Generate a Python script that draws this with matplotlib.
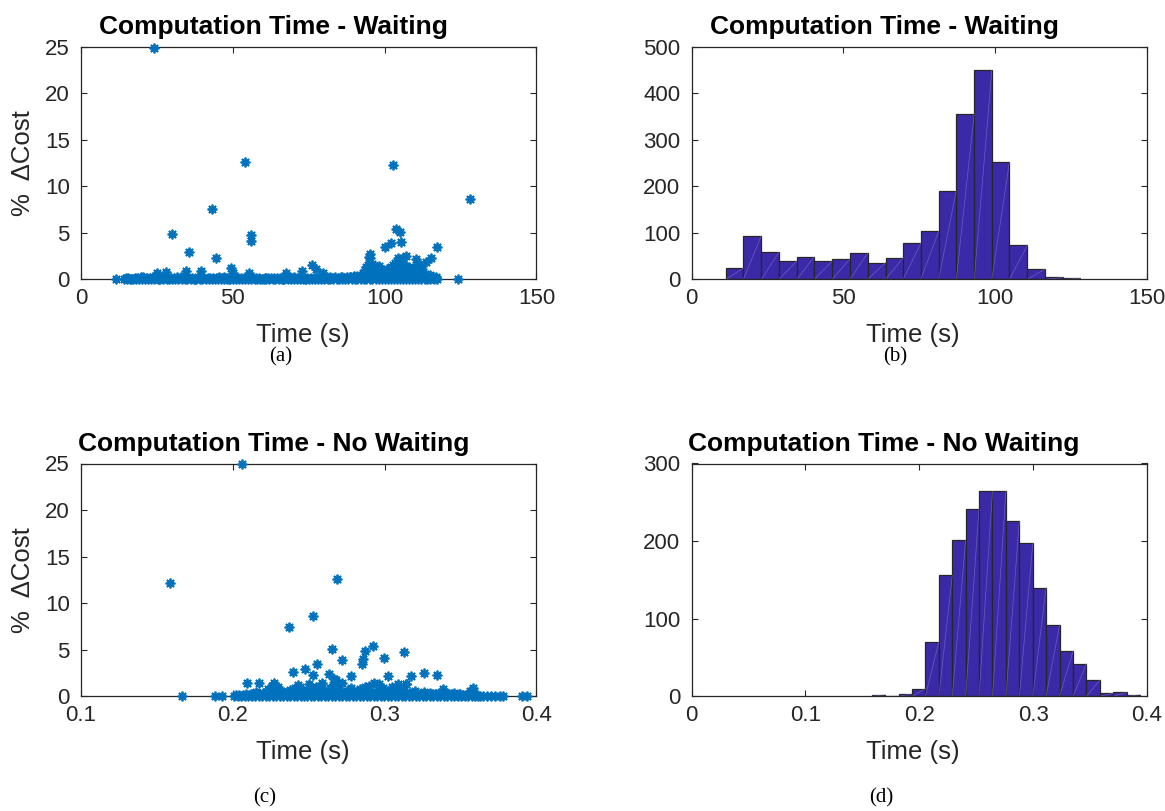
import numpy as np
import matplotlib
matplotlib.use("Agg")
import matplotlib.pyplot as plt

# ---------------- data ----------------
# (a) scatter, waiting: isolated points
wait_out_x = [23.9, 54.0, 102.7, 128.1, 43.0, 29.9, 55.9, 55.9, 35.5, 44.4, 49.5,
              103.8, 105.2, 105.3, 102.1, 100.2, 117.2, 95.3, 94.7, 104.4, 107.1,
              106.1, 110.5, 115.4, 113.6, 110.9, 108.2, 112.4, 76.0, 77.3, 79.7,
              72.9, 67.6, 55.2, 39.5, 34.6, 28.1, 24.9, 50.2, 98.3, 95.2]
wait_out_y = [24.9, 12.6, 12.25, 8.63, 7.52, 4.87, 4.8, 4.08, 2.94, 2.33, 1.25,
              5.44, 5.09, 4.05, 3.9, 3.5, 3.5, 2.69, 2.36, 2.33, 2.5,
              2.26, 2.2, 2.26, 1.83, 1.6, 1.36, 1.07, 1.5, 1.15, 0.72,
              0.9, 0.64, 0.72, 0.9, 0.9, 0.8, 0.64, 0.64, 1.46, 2.3]
# (a) small non-zero values (dense cluster near 95-108 s and low band)
wait_low_x = [92.0, 92.8, 93.5, 94.0, 94.6, 95.3, 95.8, 96.4, 97.0, 97.6, 98.9,
              99.5, 100.2, 100.8, 101.5, 102.2, 102.9, 103.5, 104.1, 104.8, 105.4,
              106.0, 106.7, 107.4, 108.4, 109.0, 109.8, 110.6, 111.5, 113.2, 114.0,
              115.0, 116.0, 117.0, 93.2, 96.0, 99.0, 101.0, 103.0, 105.0, 107.0,
              110.8, 20.5, 33.0, 47.0, 61.0, 70.0, 82.0, 86.0, 88.5, 90.0, 91.0,
              94.3, 95.0, 96.8, 97.9, 99.8, 101.9, 103.8, 104.5, 106.4, 108.0]
wait_low_y = [0.4, 0.7, 1.0, 1.3, 1.5, 1.2, 1.6, 1.4, 1.1, 1.3, 0.9,
              1.0, 0.8, 1.1, 0.9, 1.3, 1.5, 1.7, 1.4, 1.6, 1.2,
              1.5, 1.0, 1.3, 1.07, 0.8, 0.6, 0.9, 0.5, 0.6, 0.4,
              0.5, 0.3, 0.2, 0.3, 0.6, 0.4, 0.5, 0.7, 0.6, 0.5,
              1.54, 0.2, 0.25, 0.2, 0.15, 0.2, 0.25, 0.3, 0.3, 0.35, 0.4,
              0.8, 0.5, 0.9, 0.6, 0.5, 0.7, 0.9, 0.6, 0.8, 0.5]
# (a) points with zero cost
wait_zero_x = [11.5, 14.3, 15.1, 16.0, 17.2, 18.1, 19.0, 20.2, 21.1, 22.0, 23.1, 24.0,
               25.2, 26.1, 27.0, 28.2, 29.1, 30.0, 31.1, 32.0, 33.2, 34.1, 35.0,
               36.2, 37.1, 38.0, 39.1, 40.0, 41.2, 42.1, 43.0, 44.2, 45.1, 46.0,
               47.1, 48.0, 49.2, 50.1, 51.0, 52.2, 53.1, 54.0, 55.1, 56.0, 57.2,
               58.1, 59.0, 60.2, 61.1, 62.0, 63.1, 64.0, 65.2, 66.1, 67.0, 68.2,
               69.1, 70.0, 71.1, 72.0, 73.2, 74.1, 75.0, 76.2, 77.1, 78.0, 79.1,
               80.0, 81.2, 82.1, 83.0, 84.2, 85.1, 86.0, 87.1, 88.0, 89.2, 90.1,
               91.0, 92.2, 93.1, 94.0, 95.1, 96.0, 97.2, 98.1, 99.0, 100.2, 101.1,
               102.0, 103.1, 104.0, 105.2, 106.1, 107.0, 108.2, 109.1, 110.0, 111.1,
               112.0, 113.2, 114.1, 115.0, 116.2, 117.3, 124.1]
# (a) near-zero values filling the band
wait_near_x = [14.7, 15.6, 16.6, 17.7, 18.6, 19.6, 20.7, 21.6, 22.6, 23.6, 24.6,
               25.7, 26.6, 27.6, 28.7, 29.6, 30.6, 31.6, 32.6, 33.7, 34.6, 35.6,
               36.7, 37.6, 38.6, 39.6, 40.6, 41.7, 42.6, 43.6, 44.7, 45.6, 46.6,
               47.6, 48.6, 49.7, 50.6, 51.6, 52.7, 53.6, 54.6, 55.6, 56.6, 57.7,
               58.6, 59.6, 60.7, 61.6, 62.6, 63.6, 64.6, 65.7, 66.6, 67.6, 68.7,
               69.6, 70.6, 71.6, 72.6, 73.7, 74.6, 75.6, 76.7, 77.6, 78.6, 79.6,
               80.6, 81.7, 82.6, 83.6, 84.7, 85.6, 86.6, 87.6, 88.6, 89.7, 90.6,
               91.6, 92.7, 93.6, 94.6, 95.6, 96.6, 97.7, 98.6, 99.6, 100.7, 101.6,
               102.6, 103.6, 104.6, 105.7, 106.6, 107.6, 108.7, 109.6, 110.6, 111.6,
               112.6, 113.7, 114.6, 115.6, 116.7]
wait_near_y = [0.10, 0.18, 0.08, 0.15, 0.12, 0.20, 0.09, 0.16, 0.11, 0.22, 0.14,
               0.08, 0.17, 0.12, 0.19, 0.10, 0.15, 0.21, 0.09, 0.13, 0.18, 0.11,
               0.16, 0.08, 0.20, 0.12, 0.15, 0.10, 0.18, 0.09, 0.14, 0.21, 0.11,
               0.16, 0.08, 0.19, 0.13, 0.10, 0.17, 0.12, 0.22, 0.09, 0.15, 0.11,
               0.18, 0.08, 0.14, 0.12, 0.16, 0.10, 0.09, 0.13, 0.08, 0.11, 0.15,
               0.09, 0.12, 0.10, 0.14, 0.08, 0.11, 0.16, 0.09, 0.13, 0.10, 0.15,
               0.12, 0.18, 0.14, 0.20, 0.16, 0.22, 0.18, 0.25, 0.20, 0.28, 0.24,
               0.30, 0.35, 0.40, 0.45, 0.38, 0.42, 0.36, 0.32, 0.30, 0.34, 0.38,
               0.40, 0.45, 0.42, 0.38, 0.35, 0.32, 0.30, 0.26, 0.28, 0.24, 0.22,
               0.20, 0.18, 0.16, 0.12]

# (b) histogram, waiting
wait_edges = [11.3, 17.1, 23.0, 28.8, 34.7, 40.5, 46.3, 52.2, 58.0, 63.9, 69.7,
              75.5, 81.4, 87.2, 93.1, 98.9, 104.7, 110.6, 116.4, 122.3, 128.1]
wait_counts = [24, 94, 58, 39, 49, 39, 44, 56, 36, 46, 77, 103, 190, 356, 450,
               252, 73, 22, 4, 2]

# (c) scatter, no waiting: isolated points
nowait_out_x = [0.2063, 0.1587, 0.2684, 0.2528, 0.2372, 0.2926, 0.2656, 0.2871,
                0.3128, 0.2996, 0.2717, 0.2856, 0.2849, 0.2557, 0.2476, 0.2399,
                0.3262, 0.3345, 0.3025, 0.3176, 0.2777, 0.2531, 0.2634, 0.2680,
                0.2667, 0.2091, 0.2175, 0.2271, 0.2586, 0.2963, 0.3090, 0.3141,
                0.2432, 0.3382, 0.3585, 0.2270, 0.2300]
nowait_out_y = [24.9, 12.2, 12.6, 8.63, 7.49, 5.4, 5.07, 4.9,
                4.78, 4.14, 3.85, 3.97, 3.47, 3.5, 2.97, 2.66,
                2.5, 2.3, 2.2, 2.18, 2.18, 2.3, 2.36, 1.75,
                1.82, 1.46, 1.39, 1.46, 1.42, 1.35, 1.29, 1.29,
                1.21, 0.75, 0.93, 1.2, 1.0]
# (c) small non-zero values
nowait_low_x = [0.2120, 0.2150, 0.2200, 0.2230, 0.2260, 0.2290, 0.2320, 0.2350,
                0.2380, 0.2410, 0.2440, 0.2470, 0.2500, 0.2520, 0.2550, 0.2580,
                0.2610, 0.2640, 0.2660, 0.2690, 0.2720, 0.2750, 0.2780, 0.2810,
                0.2840, 0.2870, 0.2900, 0.2930, 0.2960, 0.2990, 0.3020, 0.3050,
                0.3080, 0.3110, 0.3140, 0.3170, 0.3200, 0.3230, 0.3260, 0.3300,
                0.3340, 0.3380, 0.3420, 0.3460, 0.3500, 0.3560, 0.3590]
nowait_low_y = [0.3, 0.5, 0.4, 0.8, 1.1, 0.9, 0.6, 0.4,
                0.7, 0.9, 1.0, 0.6, 1.3, 0.9, 1.0, 0.7,
                0.5, 0.9, 1.2, 0.8, 1.4, 0.6, 0.9, 0.5,
                0.8, 1.0, 1.1, 1.4, 0.7, 0.9, 0.6, 1.0,
                0.5, 0.8, 1.3, 0.4, 0.6, 0.3, 0.5, 0.4,
                0.3, 0.5, 0.2, 0.4, 0.3, 0.6, 0.4]
# (c) points with zero cost
nowait_zero_x = [0.1663, 0.1883, 0.1927,
                 0.2010, 0.2032, 0.2055, 0.2078, 0.2101, 0.2124, 0.2147, 0.2170,
                 0.2193, 0.2216, 0.2239, 0.2262, 0.2285, 0.2308, 0.2331, 0.2354,
                 0.2377, 0.2400, 0.2423, 0.2446, 0.2469, 0.2492, 0.2515, 0.2538,
                 0.2561, 0.2584, 0.2607, 0.2630, 0.2653, 0.2676, 0.2699, 0.2722,
                 0.2745, 0.2768, 0.2791, 0.2814, 0.2837, 0.2860, 0.2883, 0.2906,
                 0.2929, 0.2952, 0.2975, 0.2998, 0.3021, 0.3044, 0.3067, 0.3090,
                 0.3113, 0.3136, 0.3159, 0.3182, 0.3205, 0.3228, 0.3251, 0.3274,
                 0.3297, 0.3320, 0.3343, 0.3366, 0.3389, 0.3412, 0.3435, 0.3458,
                 0.3481, 0.3504, 0.3527, 0.3550, 0.3573, 0.3596, 0.3615,
                 0.3628, 0.3650, 0.3675, 0.3700, 0.3730, 0.3760, 0.3780, 0.3903, 0.3940]
# (c) near-zero values filling the band
nowait_near_x = [0.2021, 0.2044, 0.2067, 0.2090, 0.2113, 0.2136, 0.2159, 0.2182,
                 0.2205, 0.2228, 0.2251, 0.2274, 0.2297, 0.2320, 0.2343, 0.2366,
                 0.2389, 0.2412, 0.2435, 0.2458, 0.2481, 0.2504, 0.2527, 0.2550,
                 0.2573, 0.2596, 0.2619, 0.2642, 0.2665, 0.2688, 0.2711, 0.2734,
                 0.2757, 0.2780, 0.2803, 0.2826, 0.2849, 0.2872, 0.2895, 0.2918,
                 0.2941, 0.2964, 0.2987, 0.3010, 0.3033, 0.3056, 0.3079, 0.3102,
                 0.3125, 0.3148, 0.3171, 0.3194, 0.3217, 0.3240, 0.3263, 0.3286,
                 0.3309, 0.3332, 0.3355, 0.3378, 0.3401, 0.3424, 0.3447, 0.3470,
                 0.3493, 0.3516, 0.3539, 0.3562, 0.3585, 0.3605]
nowait_near_y = [0.10, 0.15, 0.12, 0.20, 0.18, 0.25, 0.22, 0.30,
                 0.26, 0.35, 0.30, 0.28, 0.36, 0.32, 0.40, 0.34,
                 0.30, 0.38, 0.33, 0.42, 0.36, 0.30, 0.40, 0.35,
                 0.28, 0.38, 0.32, 0.42, 0.36, 0.30, 0.40, 0.34,
                 0.28, 0.36, 0.32, 0.40, 0.35, 0.30, 0.38, 0.33,
                 0.42, 0.36, 0.30, 0.38, 0.32, 0.28, 0.34, 0.30,
                 0.26, 0.32, 0.28, 0.24, 0.30, 0.26, 0.22, 0.28,
                 0.24, 0.20, 0.26, 0.22, 0.18, 0.24, 0.20, 0.16,
                 0.22, 0.18, 0.14, 0.20, 0.15, 0.12]

# (d) histogram, no waiting
nowait_edges = [0.1583, 0.1701, 0.1819, 0.1936, 0.2054, 0.2172, 0.2290, 0.2408,
                0.2525, 0.2643, 0.2761, 0.2879, 0.2997, 0.3114, 0.3232, 0.3350,
                0.3468, 0.3586, 0.3703, 0.3821, 0.3939]
nowait_counts = [2, 0, 3, 10, 70, 156, 202, 242, 264, 264, 226, 197, 140, 92, 58,
                 42, 21, 4, 5, 2]

titles = ["Computation Time - Waiting", "Computation Time - Waiting",
          "Computation Time - No Waiting", "Computation Time - No Waiting"]
captions = ["(a)", "(b)", "(c)", "(d)"]
xlabel = "Time (s)"
ylabel = "%  \u0394Cost"

# ---------------- style ----------------
SANS = ["Liberation Sans", "DejaVu Sans"]
SERIF = ["Liberation Serif", "DejaVu Serif"]
plt.rcParams["font.family"] = SANS
AX_COL = "#262626"
PT_COL = "#0072BD"
BAR_COL = "#3B2AA8"
W, H = 1165, 811

fig = plt.figure(figsize=(W / 100, H / 100), dpi=100)

def frac_rect(l, t, r, b):
    return [l / W, 1 - b / H, (r - l) / W, (b - t) / H]

ax_a = fig.add_axes(frac_rect(81, 46.7, 536.4, 279.3))
ax_b = fig.add_axes(frac_rect(691.5, 46.7, 1147, 279.3))
ax_c = fig.add_axes(frac_rect(81, 463.5, 536.4, 696.3))
ax_d = fig.add_axes(frac_rect(691.5, 463.5, 1147, 696.3))


def style(ax, title, xlim, xticks, ylim, yticks, xt_lab, yt_lab, ylab=True):
    ax.set_xlim(*xlim)
    ax.set_ylim(*ylim)
    ax.set_xticks(xticks)
    ax.set_yticks(yticks)
    ax.set_xticklabels(xt_lab)
    ax.set_yticklabels(yt_lab)
    for s in ax.spines.values():
        s.set_color(AX_COL)
        s.set_linewidth(0.9)
        s.set_zorder(5)
    ax.tick_params(direction="in", length=4, width=0.8, color=AX_COL,
                   labelcolor=AX_COL, labelsize=16, top=True, right=True)
    ax.tick_params(axis="x", pad=6)
    ax.tick_params(axis="y", pad=8)
    ax.set_xlabel(xlabel, fontsize=18.5, color=AX_COL, va="baseline")
    ax.xaxis.set_label_coords(0.486, -63 / 232.6)
    if ylab:
        ax.set_ylabel(ylabel, fontsize=18.5, color=AX_COL, va="center")
        ax.yaxis.set_label_coords(-58 / 455.4, 0.5)
    ax.text(0.423, 1.053, title, transform=ax.transAxes, ha="center",
            va="baseline", fontsize=19, fontweight="bold", color="black")


def scatter(ax, xs, ys):
    ax.plot(xs, ys, linestyle="none", marker=(8, 2, 0), markersize=7,
            markeredgewidth=1.3, color=PT_COL, clip_on=False, zorder=6)


def hist(ax, edges, counts):
    edges = np.asarray(edges)
    counts = np.asarray(counts)
    widths = np.diff(edges)
    ax.bar(edges[:-1], counts, width=widths, align="edge", color=BAR_COL,
           edgecolor=AX_COL, linewidth=0.9, zorder=3)
    for l, w, h in zip(edges[:-1], widths, counts):
        if h > 0:
            ax.plot([l, l + w], [0, h], color="#8A80D2", lw=0.5, alpha=0.6,
                    zorder=4)


# (a)
scatter(ax_a, wait_zero_x, [0] * len(wait_zero_x))
scatter(ax_a, wait_near_x, wait_near_y)
scatter(ax_a, wait_low_x, wait_low_y)
scatter(ax_a, wait_out_x, wait_out_y)
style(ax_a, titles[0], (0, 150), [0, 50, 100, 150], (0, 25),
      [0, 5, 10, 15, 20, 25], ["0", "50", "100", "150"],
      ["0", "5", "10", "15", "20", "25"])

# (b)
hist(ax_b, wait_edges, wait_counts)
style(ax_b, titles[1], (0, 150), [0, 50, 100, 150], (0, 500),
      [0, 100, 200, 300, 400, 500], ["0", "50", "100", "150"],
      ["0", "100", "200", "300", "400", "500"], ylab=False)

# (c)
scatter(ax_c, nowait_zero_x, [0] * len(nowait_zero_x))
scatter(ax_c, nowait_near_x, nowait_near_y)
scatter(ax_c, nowait_low_x, nowait_low_y)
scatter(ax_c, nowait_out_x, nowait_out_y)
style(ax_c, titles[2], (0.1, 0.4), [0.1, 0.2, 0.3, 0.4], (0, 25),
      [0, 5, 10, 15, 20, 25], ["0.1", "0.2", "0.3", "0.4"],
      ["0", "5", "10", "15", "20", "25"])

# (d)
hist(ax_d, nowait_edges, nowait_counts)
style(ax_d, titles[3], (0, 0.4), [0, 0.1, 0.2, 0.3, 0.4], (0, 300),
      [0, 100, 200, 300], ["0", "0.1", "0.2", "0.3", "0.4"],
      ["0", "100", "200", "300"], ylab=False)

# captions
cap_pos = [(281, 357), (895, 357), (265, 798), (881, 798)]
for c, (x, y) in zip(captions, cap_pos):
    fig.text(x / W, 1 - y / H, c, ha="center", va="center", fontsize=15,
             family=SERIF, color="black")

fig.savefig("out.png", dpi=100, facecolor="white")
